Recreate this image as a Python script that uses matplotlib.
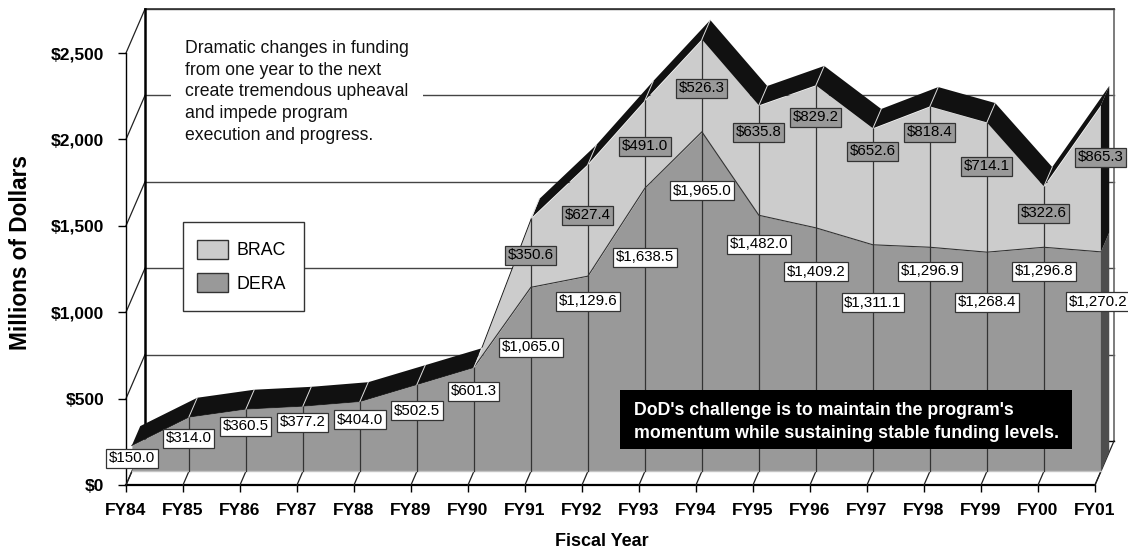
"""DERA and BRAC funding, FY84-FY01, as a stacked pseudo-3D area chart."""
import matplotlib
matplotlib.use("Agg")
import matplotlib.pyplot as plt
import numpy as np
from matplotlib.patches import Patch, Rectangle

plt.rcParams["font.family"] = ["Liberation Sans", "DejaVu Sans"]

years = ["FY84", "FY85", "FY86", "FY87", "FY88", "FY89", "FY90", "FY91", "FY92",
         "FY93", "FY94", "FY95", "FY96", "FY97", "FY98", "FY99", "FY00", "FY01"]
dera = [150.0, 314.0, 360.5, 377.2, 404.0, 502.5, 601.3, 1065.0, 1129.6,
        1638.5, 1965.0, 1482.0, 1409.2, 1311.1, 1296.9, 1268.4, 1296.8, 1270.2]
brac = [0, 0, 0, 0, 0, 0, 0, 350.6, 627.4,
        491.0, 526.3, 635.8, 829.2, 652.6, 818.4, 714.1, 322.6, 865.3]
# the BRAC layer as drawn in the source does not quite follow its printed values
brac_drawn = [0, 0, 0, 0, 0, 0, 0, 399, 647, 508, 535, 636, 825, 674, 815, 751, 352, 848]
yticks = [0, 500, 1000, 1500, 2000, 2500]

# how far each value box sits below the top of its layer, in pixels
dera_drop = [13, 21, 17, 16, 18, 26, 24, 60, 25, 69, 59, 29, 44, 58, 24, 50, 24, 50]
brac_drop = [0, 0, 0, 0, 0, 0, 0, 37, 51, 46, 49, 27, 32, 23, 26, 44, 27, 52]

W, H = 1128, 552
DX, DY = 1 / 3, 254.6     # full depth of the floor, in data units
FRONT, BACK = 0.31, 0.75  # depth of the front and rear edge of the area
LIGHT, MID = "#cccccc", "#999999"


def depth(x, y, d):
    return np.asarray(x) + DX * d, np.asarray(y) + DY * d


fig = plt.figure(figsize=(W / 100, H / 100), dpi=100)
ax = fig.add_axes([126 / W, 1 - 485 / H, (1095 - 126) / W, (485 - 53) / H])
ax.set_xlim(0, 17)
ax.set_ylim(0, 2500)
ax.patch.set_visible(False)
for s in ["top", "right"]:
    ax.spines[s].set_visible(False)
ax.spines["left"].set_linewidth(1.0)
ax.spines["bottom"].set_linewidth(1.6)

x = np.arange(len(years))
dera = np.array(dera)
total = dera + np.array(brac_drawn)

# back wall and its gridlines
for v in yticks[1:]:
    gx, gy = depth([0, 17], [v, v], 1)
    ax.plot(gx, gy, color="#444444", lw=1.0, clip_on=False, zorder=1)
    wx, wy = depth(0, v, 1)
    ax.plot([0, wx], [v, wy], color="#222222", lw=0.9, clip_on=False, zorder=1)
bx, by = depth(0, 0, 1)
rx, ry = depth(17, 0, 1)
ax.plot([bx, bx], [by, by + 2500], color="black", lw=1.8, clip_on=False, zorder=2)
ax.plot([rx, rx], [ry, ry + 2500], color="#666666", lw=1.2, clip_on=False, zorder=1)
ax.plot([bx, rx], [by + 2500, ry + 2500], color="#333333", lw=1.2, clip_on=False, zorder=1)
ax.plot([bx, rx], [by, ry], color="black", lw=1.0, clip_on=False, zorder=1)
ax.plot([17, rx], [0, ry], color="#222222", lw=0.9, clip_on=False, zorder=1)
ax.plot([0, bx], [0, by], color="#222222", lw=0.9, clip_on=False, zorder=1)

# floor ticks running back to the area
for i in x:
    fx, fy = depth(i, 0, FRONT)
    ax.plot([i, fx], [0, fy], color="#222222", lw=0.9, clip_on=False, zorder=3)

# stacked layers
fx, fy0 = depth(x, np.zeros(len(x)), FRONT)
_, fy1 = depth(x, dera, FRONT)
_, fy2 = depth(x, total, FRONT)
ax.fill_between(fx, fy0, fy1, color=MID, lw=0, clip_on=False, zorder=4)
ax.fill_between(fx, fy1, fy2, color=LIGHT, lw=0, clip_on=False, zorder=4)
ax.plot(fx, fy0, color="#c4c4c4", lw=1.0, clip_on=False, zorder=4)
ax.plot(fx, fy1, color="#333333", lw=0.8, clip_on=False, zorder=5)

# top surface
tx, ty = depth(x, total, BACK)
ax.fill(np.r_[fx, tx[::-1]], np.r_[fy2, ty[::-1]], color="#111111", lw=0, clip_on=False, zorder=5)
for i in x[1:-1]:
    ax.plot([fx[i], tx[i]], [fy2[i], ty[i]], color="#e0e0e0", lw=0.7, clip_on=False, zorder=6)

# right side face
sx0, sy0 = fx[-1], fy0[-1]
sx1, sy_low = depth(17, 0, BACK)
ax.fill([sx0, sx1, sx1, sx0], [sy0, sy_low, ty[-1] - total[-1] + dera[-1], fy1[-1]],
        color="#4d4d4d", lw=0, clip_on=False, zorder=5)
ax.fill([sx0, sx1, sx1, sx0], [fy1[-1], ty[-1] - total[-1] + dera[-1], ty[-1], fy2[-1]],
        color="#111111", lw=0, clip_on=False, zorder=5)

# drop lines
for i in x[1:-1]:
    ax.plot([fx[i], fx[i]], [fy0[i], fy2[i]], color="#333333", lw=0.9, clip_on=False, zorder=5)

# value boxes, the last one nudged to stay inside the picture
for i in x:
    nudge = -3 if i == x[-1] else 0
    ax.annotate(f"${dera[i]:,.1f}", (fx[i], fy1[i]), xytext=(nudge, -dera_drop[i]),
                textcoords="offset pixels", ha="center", va="center", fontsize=10.8,
                color="black", annotation_clip=False, zorder=8,
                bbox=dict(boxstyle="square,pad=0.17", fc="white", ec="#333333", lw=0.9))
    if brac[i] > 0:
        ax.annotate(f"${brac[i]:,.1f}", (fx[i], fy2[i]), xytext=(0, -brac_drop[i]),
                    textcoords="offset pixels", ha="center", va="center", fontsize=10.8,
                    color="black", annotation_clip=False, zorder=8,
                    bbox=dict(boxstyle="square,pad=0.17", fc=MID, ec="#333333", lw=0.9))

ax.set_xticks(x, years, fontsize=12.5, fontweight="bold")
ax.set_yticks(yticks, [f"${v:,}" for v in yticks], fontsize=12.5, fontweight="bold")
ax.tick_params(axis="x", length=5, width=1.0, pad=8)
ax.tick_params(axis="y", length=5.5, width=1.0, pad=10)
fig.text(21 / W, 1 - 253 / H, "Millions of Dollars", rotation=90, ha="center", va="center",
         fontsize=16.3, fontweight="bold")
fig.text(602 / W, 1 - 542 / H, "Fiscal Year", ha="center", va="center",
         fontsize=13, fontweight="bold")

# notes
fig.text(185 / W, 1 - 92 / H,
         "Dramatic changes in funding\nfrom one year to the next\ncreate tremendous upheaval\n"
         "and impede program\nexecution and progress.",
         ha="left", va="center", fontsize=12.7, linespacing=1.35, color="#111111",
         bbox=dict(fc="white", ec="none", pad=10), zorder=3)
ax.add_patch(Rectangle((620 / W, 1 - 449 / H), 452 / W, 59 / H, transform=fig.transFigure,
                       fc="black", ec="none", clip_on=False, zorder=9))
fig.text(634 / W, 1 - 422 / H,
         "DoD's challenge is to maintain the program's\n"
         "momentum while sustaining stable funding levels.",
         ha="left", va="center", fontsize=12.75, fontweight="bold", color="white",
         linespacing=1.42, zorder=10)

# legend: frame drawn separately, it is taller than the legend's even padding allows
ax.add_patch(Rectangle((183 / W, 1 - 311 / H), 121 / W, 89 / H, transform=fig.transFigure,
                       fc="white", ec="#333333", lw=1.0, clip_on=False, zorder=3))
handles = [Patch(fc=LIGHT, ec="#333333", label="BRAC"), Patch(fc=MID, ec="#333333", label="DERA")]
leg = ax.legend(handles=handles, loc="upper left", bbox_to_anchor=(197 / W, 1 - 240 / H),
                bbox_transform=fig.transFigure, fontsize=12.8, frameon=False,
                borderaxespad=0, borderpad=0, handlelength=1.74,
                handleheight=1.24, handletextpad=0.5, labelspacing=0.78)
leg.set_zorder(4)

fig.savefig("out.png", dpi=100)
